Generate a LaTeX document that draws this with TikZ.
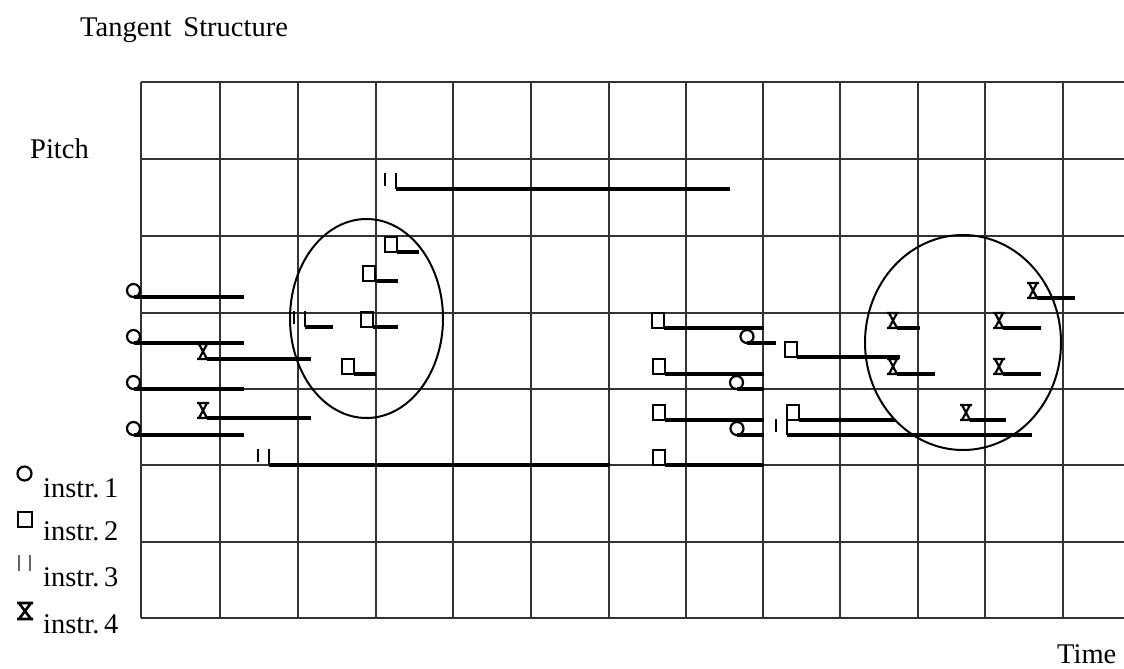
\documentclass[tikz,border=0pt]{standalone}
\usepackage{fontspec}
\setmainfont{Liberation Serif}
\newcommand{\noteO}[3]{\draw[mk] (#1,#2-6.5) circle[radius=6.5pt]; \draw[note] (#1,#2) -- (#3,#2);}
\newcommand{\noteS}[3]{\draw[mk] (#1,#2) rectangle (#1+12,#2-15); \draw[note] (#1+12,#2) -- (#3,#2);}
\newcommand{\noteB}[3]{\draw[mk] (#1,#2-16) -- (#1,#2-3) (#1+11,#2-16) -- (#1+11,#2); \draw[note] (#1+11,#2) -- (#3,#2);}
\newcommand{\noteX}[3]{\draw[mk] (#1,#2-15) -- (#1+12,#2-15) (#1,#2) -- (#1+12,#2) (#1+2,#2-15) -- (#1+10,#2) (#1+10,#2-15) -- (#1+2,#2); \draw[note] (#1+10,#2) -- (#3,#2);}
\begin{document}
\begin{tikzpicture}[x=1pt,y=-1pt,
  gridline/.style={line width=2.7pt, black!80},
  note/.style={line width=4.2pt, black},
  mk/.style={line width=2.2pt, black},
  oval/.style={line width=2pt, black},
  lbl/.style={inner sep=0pt, anchor=base west, font=\fontsize{28.5}{30}\selectfont}]
\useasboundingbox (0,0) rectangle (1124,669);
\fill[white] (0,0) rectangle (1124,669);
% grid
\foreach \gx in {141,220,298,376,453,531,609,686,763,840,918,985,1063}
  \draw[gridline] (\gx,82) -- (\gx,618);
\foreach \gy in {82,159,236,313,389,465,542,618}
  \draw[gridline] (141,\gy) -- (1124,\gy);
% ellipses
\draw[oval] (366.5,318.5) ellipse [x radius=76.5pt, y radius=99.5pt];
\draw[oval] (963,342.5) ellipse [x radius=98pt, y radius=107.5pt];
% left column
\noteO{133.5}{297}{244}
\noteO{133.5}{343}{244}
\noteO{133.5}{389}{244}
\noteO{133.5}{435}{244}
\noteX{197}{359}{311}
\noteX{197}{418}{311}
% instrument 3 long notes
\noteB{385}{189}{730}
\noteB{258}{465}{610}
% left ellipse
\noteS{385}{252}{419}
\noteS{363}{281}{398}
\noteB{294}{327}{333}
\noteS{361}{327}{398}
\noteS{342}{374}{376}
% middle cluster
\noteS{652}{328}{764}
\noteO{747}{343}{776}
\noteS{785}{357}{900}
\noteS{653}{374}{764}
\noteO{736.5}{389}{764}
\noteS{653}{420}{764}
\noteO{737}{435}{764}
\noteB{776}{435}{1032}
\noteS{787}{420}{895}
\noteS{653}{465}{764}
% right ellipse
\noteX{1027}{298}{1075}
\noteX{887}{328}{920}
\noteX{993}{328}{1041}
\noteX{887}{374}{935}
\noteX{993}{374}{1041}
\noteX{960}{420}{1006}
% legend symbols
\draw[mk] (24.5,473.5) circle[radius=7pt];
\draw[mk] (18,512) rectangle (32,527);
\draw[line width=1.2pt, black!60] (19,555) -- (19,571) (30,555) -- (30,571);
\draw[line width=2.6pt] (17,603) -- (33,603) (17,619) -- (33,619) (19,603) -- (31,619) (31,603) -- (19,619);
% texts
\node[lbl] (title) at (80,37) {Tangent\, Structure};
\node[lbl] (pitch) at (30,158) {Pitch};
\node[lbl] (l1) at (43,497) {instr.\,1};
\node[lbl] (l2) at (43,540) {instr.\,2};
\node[lbl] (l3) at (43,586) {instr.\,3};
\node[lbl] (l4) at (43,633) {instr.\,4};
\node[lbl] (time) at (1057,663) {Time};
\end{tikzpicture}
\end{document}
